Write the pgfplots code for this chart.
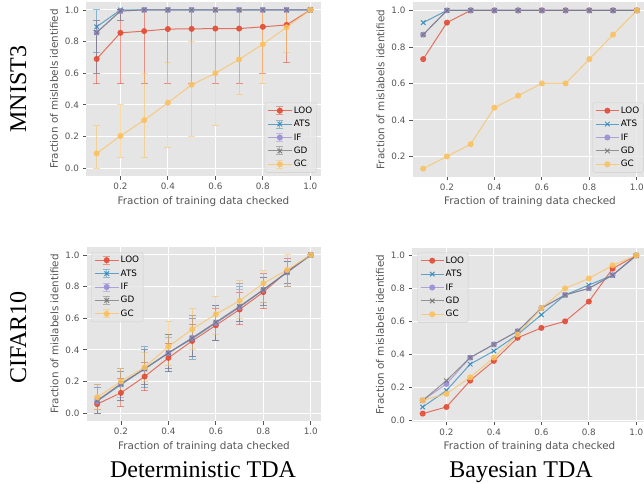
\documentclass[border=0pt]{standalone}
\usepackage{fontspec}
\setmainfont{DejaVu Sans}
\newfontfamily\titlefont{Liberation Serif}
\usepackage{pgfplots}
\usepackage{pgfplotstable}
\pgfplotsset{compat=1.18}
\definecolor{bg}{HTML}{E5E5E5}
\definecolor{tk}{HTML}{555555}
\definecolor{cLOO}{HTML}{E24A33}
\definecolor{cATS}{HTML}{348ABD}
\definecolor{cIF}{HTML}{988ED5}
\definecolor{cGD}{HTML}{777777}
\definecolor{cGC}{HTML}{FBC15E}
\definecolor{lgedge}{HTML}{CCCCCC}

% MNIST3 deterministic: x, mean, lower, upper
\pgfplotstableread{
x y lo hi
0.1 0.690 0.533 0.867
0.2 0.855 0.533 1.0
0.3 0.866 0.533 1.0
0.4 0.879 0.533 1.0
0.5 0.880 0.533 1.0
0.6 0.882 0.533 1.0
0.7 0.882 0.533 1.0
0.8 0.893 0.600 1.0
0.9 0.905 0.667 1.0
1.0 1.000 1.000 1.0
}\mLOO
\pgfplotstableread{
x y lo hi
0.1 0.893 0.733 1.0
0.2 1.000 1.000 1.0
0.3 1.000 1.000 1.0
0.4 1.000 1.000 1.0
0.5 1.000 1.000 1.0
0.6 1.000 1.000 1.0
0.7 1.000 1.000 1.0
0.8 1.000 1.000 1.0
0.9 1.000 1.000 1.0
1.0 1.000 1.000 1.0
}\mATS
\pgfplotstableread{
x y lo hi
0.1 0.857 0.600 0.933
0.2 0.993 0.933 1.0
0.3 1.000 1.000 1.0
0.4 1.000 1.000 1.0
0.5 1.000 1.000 1.0
0.6 1.000 1.000 1.0
0.7 1.000 1.000 1.0
0.8 1.000 1.000 1.0
0.9 1.000 1.000 1.0
1.0 1.000 1.000 1.0
}\mIF
\pgfplotstableread{
x y lo hi
0.1 0.857 0.600 0.933
0.2 0.993 0.933 1.0
0.3 1.000 1.000 1.0
0.4 1.000 1.000 1.0
0.5 1.000 1.000 1.0
0.6 1.000 1.000 1.0
0.7 1.000 1.000 1.0
0.8 1.000 1.000 1.0
0.9 1.000 1.000 1.0
1.0 1.000 1.000 1.0
}\mGD
\pgfplotstableread{
x y lo hi
0.1 0.093 0.000 0.267
0.2 0.203 0.067 0.400
0.3 0.303 0.067 0.600
0.4 0.413 0.133 0.667
0.5 0.527 0.200 0.800
0.6 0.600 0.267 1.000
0.7 0.687 0.467 1.000
0.8 0.783 0.533 1.000
0.9 0.890 0.733 1.000
1.0 1.000 1.000 1.000
}\mGC

% CIFAR10 deterministic
\pgfplotstableread{
x y lo hi
0.1 0.057 0.02 0.10
0.2 0.128 0.04 0.22
0.3 0.231 0.14 0.32
0.4 0.349 0.26 0.44
0.5 0.456 0.36 0.56
0.6 0.555 0.46 0.66
0.7 0.655 0.56 0.76
0.8 0.765 0.66 0.88
0.9 0.895 0.80 0.98
1.0 1.000 1.00 1.00
}\cLOOt
\pgfplotstableread{
x y lo hi
0.1 0.075 0.00 0.16
0.2 0.180 0.08 0.26
0.3 0.280 0.16 0.42
0.4 0.380 0.26 0.50
0.5 0.470 0.34 0.60
0.6 0.570 0.46 0.68
0.7 0.670 0.58 0.80
0.8 0.780 0.70 0.86
0.9 0.890 0.80 0.96
1.0 1.000 1.00 1.00
}\cATSt
\pgfplotstableread{
x y lo hi
0.1 0.075 0.00 0.16
0.2 0.185 0.10 0.26
0.3 0.280 0.18 0.40
0.4 0.380 0.28 0.48
0.5 0.475 0.36 0.60
0.6 0.570 0.46 0.68
0.7 0.670 0.58 0.78
0.8 0.780 0.68 0.86
0.9 0.890 0.82 0.96
1.0 1.000 1.00 1.00
}\cIFt
\pgfplotstableread{
x y lo hi
0.1 0.080 0.00 0.18
0.2 0.185 0.08 0.28
0.3 0.280 0.18 0.40
0.4 0.380 0.28 0.50
0.5 0.475 0.36 0.62
0.6 0.575 0.46 0.68
0.7 0.675 0.58 0.82
0.8 0.780 0.68 0.86
0.9 0.890 0.82 0.96
1.0 1.000 1.00 1.00
}\cGDt
\pgfplotstableread{
x y lo hi
0.1 0.100 0.02 0.18
0.2 0.200 0.12 0.28
0.3 0.290 0.20 0.38
0.4 0.420 0.30 0.58
0.5 0.530 0.40 0.66
0.6 0.625 0.50 0.74
0.7 0.710 0.60 0.84
0.8 0.820 0.70 0.90
0.9 0.905 0.80 1.00
1.0 1.000 1.00 1.00
}\cGCt

\pgfplotsset{
  gg/.style={
    scale only axis, width=235pt, height=174pt,
    xmin=0.055, xmax=1.045,
    xtick={0.2,0.4,0.6,0.8,1.0},
    ytick={0,0.2,0.4,0.6,0.8,1.0},
    axis background/.style={fill=bg},
    axis line style={draw=none},
    grid=major,
    major grid style={white, line width=0.9pt},
    tick align=outside, tick pos=left,
    major tick length=3.5pt,
    tick style={color=tk, line width=0.8pt},
    ticklabel style={font=\fontsize{8.8}{10}\selectfont, text=tk},
    /pgf/number format/assume math mode=true,
    /pgf/number format/fixed,
    /pgf/number format/fixed zerofill,
    /pgf/number format/precision=1,
    label style={font=\fontsize{10.4}{12}\selectfont, text=tk},
    xlabel={Fraction of training data checked},
    ylabel={Fraction of mislabels identified},
    legend cell align=left,
    legend style={font=\fontsize{8.8}{10}\selectfont, fill=bg, fill opacity=0.8,
      draw=lgedge, draw opacity=0.9, text opacity=1, rounded corners=2pt,
      inner sep=2.5pt, row sep=2.4pt,
      nodes={text height=6.5pt, text depth=1.5pt, inner sep=1.5pt}},
  },
  lineleg/.style={legend image code/.code={
      \draw[##1, mark=none] (0pt,0pt) -- (23pt,0pt);
      \draw[##1] plot coordinates {(11.5pt,0pt)};}},
  errleg/.style={legend image code/.code={
      \draw[##1, mark=none] (0pt,0pt) -- (24pt,0pt);
      \draw[##1, mark=none, draw opacity=0.5] (12pt,-4pt) -- (12pt,4pt)
         (8.5pt,4pt) -- (15.5pt,4pt) (8.5pt,-4pt) -- (15.5pt,-4pt);
      \draw[##1] plot coordinates {(12pt,0pt)};}},
  sLOO/.style={color=cLOO, line width=1pt, draw opacity=0.75, mark=*, mark size=2.5pt, mark options={opacity=0.85, draw opacity=0.85}},
  sATS/.style={color=cATS, line width=1pt, draw opacity=0.75, mark=x, mark size=3.2pt, mark options={draw opacity=0.9}},
  sIF/.style={color=cIF, line width=1pt, draw opacity=0.75, mark=*, mark size=2.5pt, mark options={opacity=0.85, draw opacity=0.85}},
  sGD/.style={color=cGD, line width=1pt, draw opacity=0.75, mark=x, mark size=3.2pt, mark options={draw opacity=0.9}},
  sGC/.style={color=cGC, line width=1pt, draw opacity=0.75, mark=*, mark size=2.5pt, mark options={opacity=0.85, draw opacity=0.85}},
  eb/.style={error bars/.cd, y dir=both, y explicit,
     error bar style={line width=1pt, opacity=0.55},
     error mark options={rotate=90, mark size=3.5pt, line width=1pt, opacity=0.55}},
}

\begin{document}
\begin{tikzpicture}
\useasboundingbox (0,0) rectangle (644pt,483pt);

% ---------- MNIST3 deterministic ----------
\begin{axis}[gg, at={(86pt,307pt)}, anchor=south west,
  ymin=-0.05, ymax=1.05, errleg,
  legend style={at={(1,0)}, anchor=south east, xshift=-4.5pt, yshift=3.5pt}]
\addplot[sLOO, eb] table[x=x, y=y, y error plus expr=\thisrow{hi}-\thisrow{y}, y error minus expr=\thisrow{y}-\thisrow{lo}]{\mLOO};
\addplot[sATS, eb] table[x=x, y=y, y error plus expr=\thisrow{hi}-\thisrow{y}, y error minus expr=\thisrow{y}-\thisrow{lo}]{\mATS};
\addplot[sIF, eb] table[x=x, y=y, y error plus expr=\thisrow{hi}-\thisrow{y}, y error minus expr=\thisrow{y}-\thisrow{lo}]{\mIF};
\addplot[sGD, eb] table[x=x, y=y, y error plus expr=\thisrow{hi}-\thisrow{y}, y error minus expr=\thisrow{y}-\thisrow{lo}]{\mGD};
\addplot[sGC, eb] table[x=x, y=y, y error plus expr=\thisrow{hi}-\thisrow{y}, y error minus expr=\thisrow{y}-\thisrow{lo}]{\mGC};
\legend{LOO,ATS,IF,GD,GC}
\end{axis}

% ---------- MNIST3 Bayesian ----------
\begin{axis}[gg, at={(412.5pt,306.5pt)}, anchor=south west,
  ymin=0.09, ymax=1.0433, lineleg,
  legend style={at={(1,0)}, anchor=south east, xshift=-4pt, yshift=4pt}]
\addplot[sLOO] coordinates {(0.1,0.733)(0.2,0.933)(0.3,1)(0.4,1)(0.5,1)(0.6,1)(0.7,1)(0.8,1)(0.9,1)(1.0,1)};
\addplot[sATS] coordinates {(0.1,0.933)(0.2,1)(0.3,1)(0.4,1)(0.5,1)(0.6,1)(0.7,1)(0.8,1)(0.9,1)(1.0,1)};
\addplot[sIF] coordinates {(0.1,0.867)(0.2,1)(0.3,1)(0.4,1)(0.5,1)(0.6,1)(0.7,1)(0.8,1)(0.9,1)(1.0,1)};
\addplot[sGD] coordinates {(0.1,0.867)(0.2,1)(0.3,1)(0.4,1)(0.5,1)(0.6,1)(0.7,1)(0.8,1)(0.9,1)(1.0,1)};
\addplot[sGC] coordinates {(0.1,0.133)(0.2,0.2)(0.3,0.267)(0.4,0.467)(0.5,0.533)(0.6,0.6)(0.7,0.6)(0.8,0.733)(0.9,0.867)(1.0,1)};
\legend{LOO,ATS,IF,GD,GC}
\end{axis}

% ---------- CIFAR10 deterministic ----------
\begin{axis}[gg, at={(86.5pt,62pt)}, anchor=south west,
  ymin=-0.05, ymax=1.05, errleg,
  legend style={at={(0,1)}, anchor=north west, xshift=5pt, yshift=-5pt}]
\addplot[sLOO, eb] table[x=x, y=y, y error plus expr=\thisrow{hi}-\thisrow{y}, y error minus expr=\thisrow{y}-\thisrow{lo}]{\cLOOt};
\addplot[sATS, eb] table[x=x, y=y, y error plus expr=\thisrow{hi}-\thisrow{y}, y error minus expr=\thisrow{y}-\thisrow{lo}]{\cATSt};
\addplot[sIF, eb] table[x=x, y=y, y error plus expr=\thisrow{hi}-\thisrow{y}, y error minus expr=\thisrow{y}-\thisrow{lo}]{\cIFt};
\addplot[sGD, eb] table[x=x, y=y, y error plus expr=\thisrow{hi}-\thisrow{y}, y error minus expr=\thisrow{y}-\thisrow{lo}]{\cGDt};
\addplot[sGC, eb] table[x=x, y=y, y error plus expr=\thisrow{hi}-\thisrow{y}, y error minus expr=\thisrow{y}-\thisrow{lo}]{\cGCt};
\legend{LOO,ATS,IF,GD,GC}
\end{axis}

% ---------- CIFAR10 Bayesian ----------
\begin{axis}[gg, at={(412pt,61.5pt)}, anchor=south west,
  ymin=-0.008, ymax=1.048, lineleg,
  legend style={at={(0,1)}, anchor=north west, xshift=5.5pt, yshift=-5pt}]
\addplot[sLOO] coordinates {(0.1,0.04)(0.2,0.08)(0.3,0.24)(0.4,0.36)(0.5,0.50)(0.6,0.56)(0.7,0.60)(0.8,0.72)(0.9,0.92)(1.0,1)};
\addplot[sATS] coordinates {(0.1,0.08)(0.2,0.18)(0.3,0.34)(0.4,0.42)(0.5,0.52)(0.6,0.64)(0.7,0.76)(0.8,0.82)(0.9,0.88)(1.0,1)};
\addplot[sIF] coordinates {(0.1,0.12)(0.2,0.22)(0.3,0.38)(0.4,0.46)(0.5,0.54)(0.6,0.68)(0.7,0.76)(0.8,0.80)(0.9,0.88)(1.0,1)};
\addplot[sGD] coordinates {(0.1,0.12)(0.2,0.24)(0.3,0.38)(0.4,0.46)(0.5,0.54)(0.6,0.68)(0.7,0.76)(0.8,0.80)(0.9,0.88)(1.0,1)};
\addplot[sGC] coordinates {(0.1,0.12)(0.2,0.16)(0.3,0.26)(0.4,0.38)(0.5,0.52)(0.6,0.68)(0.7,0.80)(0.8,0.86)(0.9,0.94)(1.0,1)};
\legend{LOO,ATS,IF,GD,GC}
\end{axis}

% ---------- titles ----------
\node[anchor=base, inner sep=0pt] at (203pt,5.5pt) {\titlefont\fontsize{24}{28}\selectfont Deterministic TDA};
\node[anchor=base, inner sep=0pt] at (521pt,5.5pt) {\titlefont\fontsize{24}{28}\selectfont Bayesian TDA};
\node[anchor=base, rotate=90, inner sep=0pt] at (26pt,394pt) {\titlefont\fontsize{24}{28}\selectfont MNIST3};
\node[anchor=base, rotate=90, inner sep=0pt] at (26pt,145.5pt) {\titlefont\fontsize{24}{28}\selectfont CIFAR10};
\end{tikzpicture}
\end{document}
